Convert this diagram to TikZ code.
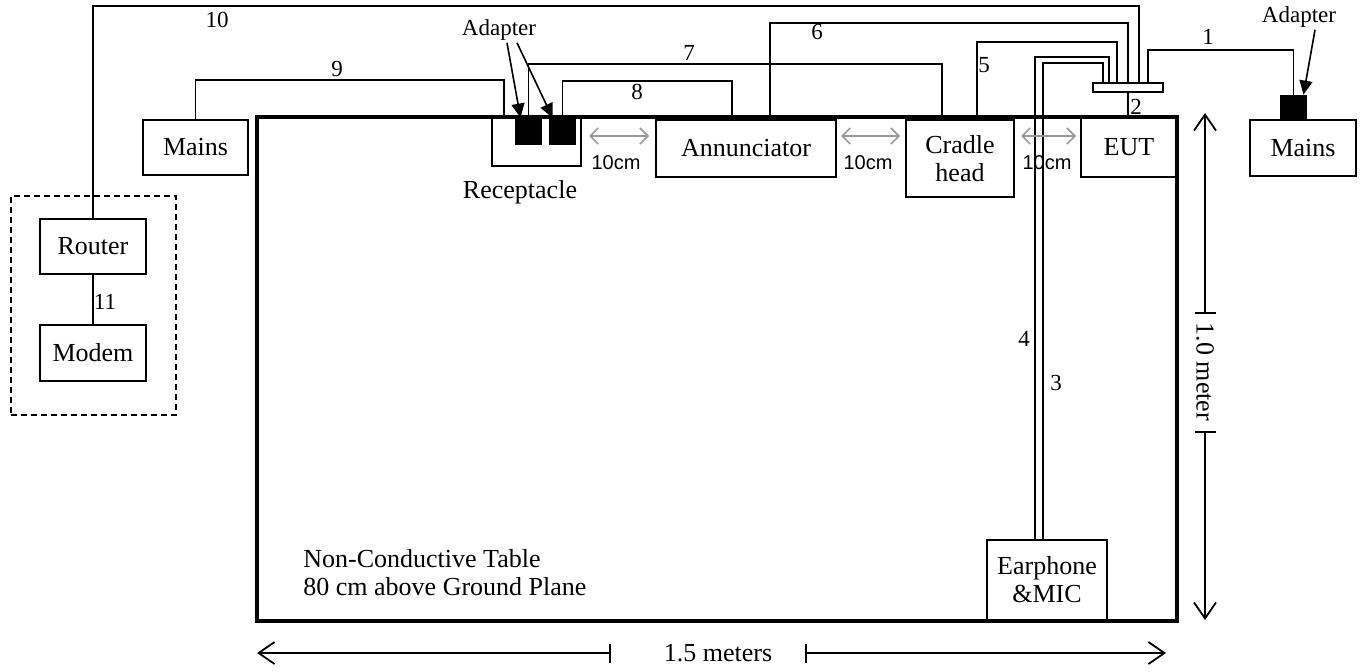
\documentclass[tikz,border=0pt]{standalone}
\usepackage{fontspec}
\setmainfont{Liberation Serif}
\newfontfamily\arialfont{Liberation Sans}
\usetikzlibrary{arrows.meta}
\tikzset{
  boxsize/.style 2 args={minimum width=#1*0.5pt, minimum height=#2*0.5pt},
  box/.style={draw, line width=1pt, inner sep=0pt, align=center},
  plug/.style={fill=black, inner sep=0pt},
  cable/.style={line width=0.8pt},
  cablenum/.style={font=\fontsize{11.5}{13}\selectfont, inner sep=0pt},
  gaparrow/.style={draw=black!40, line width=0.8pt, {Straight Barb[length=4pt,width=8pt]}-{Straight Barb[length=4pt,width=8pt]}},
  gaptext/.style={font=\arialfont\fontsize{10}{12}\selectfont, inner sep=0pt},
  dimline/.style={line width=0.9pt},
  adaptarrow/.style={-{Triangle[length=7pt,width=6.5pt]}, line width=0.8pt},
  adaptlabel/.style={font=\fontsize{11.5}{13}\selectfont, inner sep=1pt},
}
\begin{document}
\begin{tikzpicture}[x=0.5pt, y=-0.5pt, font=\fontsize{13}{14}\selectfont, >={Straight Barb[length=8pt,width=11pt]}]
\useasboundingbox (0,0) rectangle (1364,671);
% table
\node[draw, line width=1.8pt, boxsize={920}{504}] (table) at (717,369) {};
\node[align=left, anchor=west, inner sep=0pt] (tabletext) at (303,573) {Non-Conductive Table\\80 cm above Ground Plane};
% devices
\node[draw, dashed, line width=0.8pt, dash pattern=on 3pt off 2pt, boxsize={165}{219}] (lan) at (93.5,305.5) {};
\node[box, boxsize={105}{55}] (mainsL) at (195.5,147.5) {Mains};
\node[box, boxsize={106}{55}] (router) at (93,246.5) {Router};
\node[box, boxsize={106}{56}] (modem) at (93,353) {Modem};
\node[box, boxsize={89}{49}] (recept) at (536.5,141.5) {};
\node (receptlabel) at (520,192) {Receptacle};
\node[plug, boxsize={27}{27}] (adp1) at (528.5,131.5) {};
\node[plug, boxsize={27}{27}] (adp2) at (562.5,131.5) {};
\node[box, boxsize={180}{57}] (annun) at (746,148.5) {Annunciator};
\node[box, boxsize={108}{77}] (cradle) at (960,158.5) {Cradle\\head};
\node[box, boxsize={96}{60}] (eut) at (1129,147) {EUT};
\node[box, boxsize={106}{56}] (mainsR) at (1303,148) {Mains};
\node[plug, boxsize={27}{25}] (adp3) at (1293.5,107.5) {};
\node[box, boxsize={70}{9}] (hub) at (1128,87.5) {};
\node[box, boxsize={120}{80}] (ear) at (1047,580) {Earphone\\\&MIC};
% adapters
\node[adaptlabel] (adlabelL) at (499,30) {Adapter};
\draw[adaptarrow] ([xshift=4pt]adlabelL.south) -- ([xshift=-4pt]adp1.north);
\draw[adaptarrow] ([xshift=9pt]adlabelL.south) -- ([xshift=-5pt]adp2.north);
\node[adaptlabel] (adlabelR) at (1299,17) {Adapter};
\draw[adaptarrow] ([xshift=8pt]adlabelR.south) -- ([xshift=5pt]adp3.north);
% cables
\draw[cable] (hub.north -| 1148,0) -- (1148,50) -| (adp3.north);
\draw[cable] (hub.south) -- (hub.south |- eut.north);
\draw[cable] (hub.north -| 1103,0) |- (1043,63) -- (1043,63 |- ear.north);
\draw[cable] (hub.north -| 1109,0) |- (1035,57) -- (1035,57 |- ear.north);
\draw[cable] (hub.north -| 1117,0) |- (977,42) -- (977,42 |- cradle.north);
\draw[cable] (hub.north) |- (770,23) -- (770,23 |- annun.north);
\draw[cable] (adp1.north) |- (942,64) -- (942,64 |- cradle.north);
\draw[cable] (adp2.north) |- (732,81) -- (732,81 |- annun.north);
\draw[cable] (mainsL.north) |- (504,80) -- (504,80 |- recept.north);
\draw[cable] (router.north) |- (1139,6) -- (hub.north -| 1139,0);
\draw[cable] (router) -- (modem);
\node[cablenum] (n1) at (1208,37) {1};
\node[cablenum] (n2) at (1136,107) {2};
\node[cablenum] (n3) at (1056,383) {3};
\node[cablenum] (n4) at (1024,339) {4};
\node[cablenum] (n5) at (984,65) {5};
\node[cablenum] (n6) at (817,32) {6};
\node[cablenum] (n7) at (689,53) {7};
\node[cablenum] (n8) at (637,92) {8};
\node[cablenum] (n9) at (337,69) {9};
\node[cablenum] (n10) at (217,20) {10};
\node[cablenum] (n11) at (105,302) {11};
% 10cm spacing
\draw[gaparrow] (589,136) -- (649,136);
\node[gaptext] (gapA) at (616,163) {10cm};
\draw[gaparrow] (841,136) -- (900,136);
\node[gaptext] (gapB) at (868,163) {10cm};
\draw[gaparrow] (1021,136) -- (1076,136);
\node[gaptext] (gapC) at (1047,163) {10cm};
% dimensions
\node[rotate=-90, inner sep=0pt] (meterlabel) at (1205,372) {1.0 meter};
\draw[dimline,->] (1205,313) -- (1205,113);
\draw[dimline] (1195,313) -- (1216,313);
\draw[dimline] (1195,432) -- (1216,432);
\draw[dimline,->] (1205,432) -- (1205,620);
\node[inner sep=0pt] (meterslabel) at (718,653) {1.5 meters};
\draw[dimline,->] (610,653) -- (257,653);
\draw[dimline] (610,644) -- (610,663);
\draw[dimline] (806,644) -- (806,663);
\draw[dimline,->] (806,653) -- (1166,653);
\end{tikzpicture}
\end{document}
